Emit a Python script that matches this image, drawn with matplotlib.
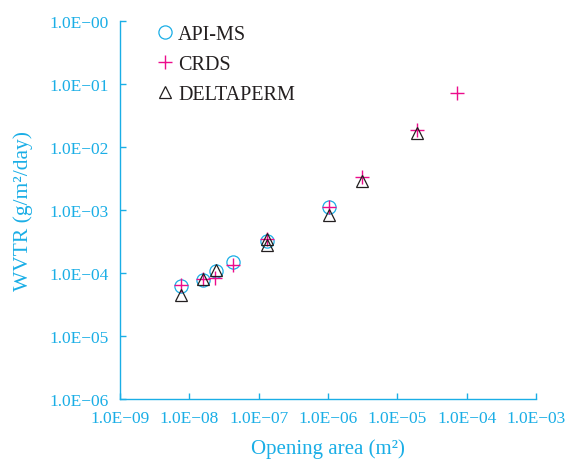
import matplotlib
matplotlib.use("Agg")
import matplotlib.pyplot as plt
from matplotlib.ticker import FixedLocator, FixedFormatter, NullLocator

# Data
api_x = [7.5e-9, 1.59e-8, 2.43e-8, 4.2e-8, 1.31e-7, 1.04e-6]
api_y = [6.2e-5, 7.7e-5, 1.08e-4, 1.46e-4, 3.15e-4, 1.12e-3]

crds_x = [7.6e-9, 1.58e-8, 2.35e-8, 4.2e-8, 1.31e-7, 1.04e-6, 3.06e-6, 1.9e-5, 7.3e-5]
crds_y = [6.3e-5, 7.8e-5, 8.2e-5, 1.32e-4, 3.43e-4, 1.1e-3, 3.27e-3, 1.84e-2, 7.1e-2]

delta_x = [7.6e-9, 1.59e-8, 2.43e-8, 1.31e-7, 1.31e-7, 1.04e-6, 3.06e-6, 1.9e-5]
delta_y = [4.4e-5, 7.8e-5, 1.1e-4, 3.43e-4, 2.75e-4, 8.2e-4, 2.9e-3, 1.65e-2]

x_ticks = [1e-9, 1e-8, 1e-7, 1e-6, 1e-5, 1e-4, 1e-3]
x_labels = ["1.0E−09", "1.0E−08", "1.0E−07", "1.0E−06", "1.0E−05", "1.0E−04", "1.0E−03"]
y_ticks = [1e-6, 1e-5, 1e-4, 1e-3, 1e-2, 1e-1, 1e0]
y_labels = ["1.0E−06", "1.0E−05", "1.0E−04", "1.0E−03", "1.0E−02", "1.0E−01", "1.0E−00"]

CYAN = "#1aaee6"
MAGENTA = "#ec0c8c"
BLACK = "#231f20"

plt.rcParams['font.family'] = ['Liberation Serif', 'DejaVu Serif']

fig = plt.figure(figsize=(5.68, 4.64), dpi=100)
ax = fig.add_axes([0.2113, 0.1386, 0.9437 - 0.2113, 0.9532 - 0.1386])
ax.set_xscale('log')
ax.set_yscale('log')
ax.set_xlim(1e-9, 1e-3)
ax.set_ylim(1e-6, 1e0)

ax.plot(api_x, api_y, linestyle='none', marker='o', markersize=9.5,
        markerfacecolor='none', markeredgecolor=CYAN, markeredgewidth=0.9, label='API-MS')
ax.plot(crds_x, crds_y, linestyle='none', marker='+', markersize=9.5,
        color=MAGENTA, markeredgewidth=1.0, label='CRDS')
ax.plot(delta_x, delta_y, linestyle='none', marker='^', markersize=9,
        markerfacecolor='none', markeredgecolor=BLACK, markeredgewidth=0.9, label='DELTAPERM')

for s in ['top', 'right']:
    ax.spines[s].set_visible(False)
for s in ['left', 'bottom']:
    ax.spines[s].set_color(CYAN)
    ax.spines[s].set_linewidth(1.0)

ax.xaxis.set_major_locator(FixedLocator(x_ticks))
ax.xaxis.set_major_formatter(FixedFormatter(x_labels))
ax.yaxis.set_major_locator(FixedLocator(y_ticks))
ax.yaxis.set_major_formatter(FixedFormatter(y_labels))
ax.xaxis.set_minor_locator(NullLocator())
ax.yaxis.set_minor_locator(NullLocator())

ax.tick_params(axis='both', which='major', direction='in', length=4.5, width=1.0,
               color=CYAN, labelcolor=CYAN, labelsize=12.5, pad=8)

ax.set_xlabel("Opening area (m²)", color=CYAN, fontsize=15, labelpad=9)
ax.set_ylabel("WVTR (g/m²/day)", color=CYAN, fontsize=15.5, labelpad=12)

leg = ax.legend(loc='upper left', bbox_to_anchor=(0.065, 1.01), frameon=False,
                fontsize=14.5, handletextpad=0.15, labelspacing=0.55,
                handlelength=1.0, borderaxespad=0.0)
for t in leg.get_texts():
    t.set_color(BLACK)

fig.savefig("out.png", dpi=100)
